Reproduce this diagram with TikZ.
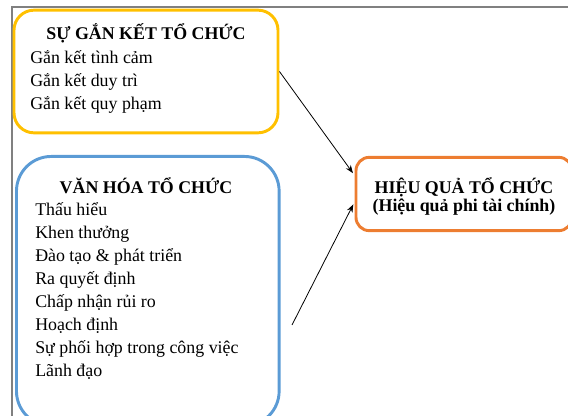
\documentclass[tikz,border=0pt]{standalone}
\usepackage{fontspec}
\setmainfont{Liberation Serif}
\usetikzlibrary{arrows.meta}
\definecolor{vang}{HTML}{FFC000}
\definecolor{xanh}{HTML}{5B9BD5}
\definecolor{cam}{HTML}{ED7D31}
\tikzset{
	khung/.style={draw, line width=2.2pt, rounded corners=#1},
	chu/.style={font=\fontsize{13.4}{17.25}\selectfont, align=left, inner sep=0pt},
	tieude/.style={font=\fontsize{13.4}{13.5}\selectfont\bfseries, align=center, inner sep=0pt},
	muiten/.style={-{Stealth[length=6pt,width=4.5pt]}, line width=0.6pt, shorten >=2pt}
}
\begin{document}
\begin{tikzpicture}[x=0.75pt,y=-0.75pt]
	\useasboundingbox (0,0) rectangle (568,416);
	\draw[gray, line width=0.8pt] (12,416) -- (12,7) -- (568,7);
	% gan ket
	\node[khung=15pt, draw=vang, minimum width=198pt, minimum height=92pt] (ganket) at (146,71.5) {};
	\node[tieude, anchor=base] (tdganket) at (146,40) {SỰ GẮN KẾT TỔ CHỨC};
	\node[chu, anchor=north west] (dsganket) at (30,50) {Gắn kết tình cảm\\Gắn kết duy trì\\Gắn kết quy phạm};
	% van hoa
	\node[khung=26pt, draw=xanh, minimum width=197pt, minimum height=202pt, anchor=north west] (vanhoa) at (15,155) {};
	\node[tieude, anchor=base] (tdvanhoa) at (146,194) {VĂN HÓA TỔ CHỨC};
	\node[chu, anchor=north west] (dsvanhoa) at (35,202) {Thấu hiểu\\Khen thưởng\\Đào tạo \& phát triển\\Ra quyết định\\Chấp nhận rủi ro\\Hoạch định\\Sự phối hợp trong công việc\\Lãnh đạo};
	% hieu qua
	\node[khung=10pt, draw=cam, minimum width=162pt, minimum height=55pt] (hieuqua) at (464,194) {};
	\node[tieude] (tdhieuqua) at (464,196) {HIỆU QUẢ TỔ CHỨC\\(Hiệu quả phi tài chính)};
	% mui ten
	\coordinate (goc) at (292,325);
	\draw[muiten] (ganket.east) -- ([yshift=14pt]hieuqua.west);
	\draw[muiten] (goc) -- ([yshift=-6pt]hieuqua.west);
\end{tikzpicture}
\end{document}
